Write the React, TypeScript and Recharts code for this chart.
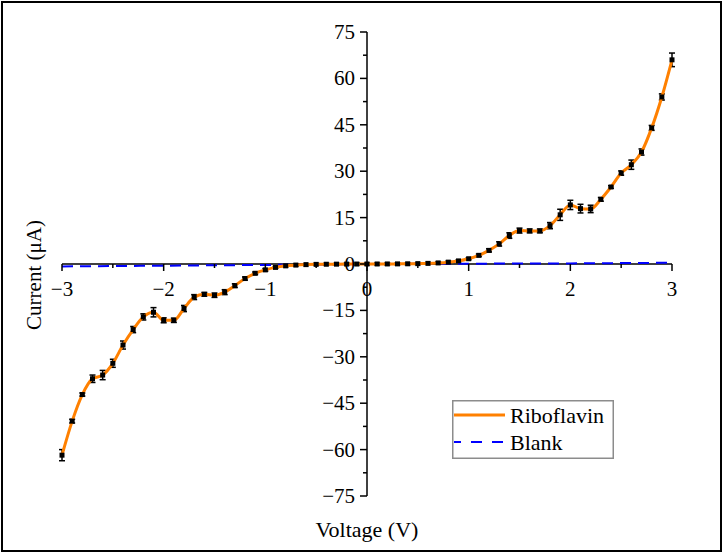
import React from "react";
import {
  LineChart,
  Line,
  XAxis,
  YAxis,
  ErrorBar,
  ReferenceLine,
  Legend,
  Label,
} from "recharts";

// voltage steps (V)
const voltage = [
  -3.0, -2.9, -2.8, -2.7, -2.6, -2.5, -2.4, -2.3, -2.2, -2.1,
  -2.0, -1.9, -1.8, -1.7, -1.6, -1.5, -1.4, -1.3, -1.2, -1.1,
  -1.0, -0.9, -0.8, -0.7, -0.6, -0.5, -0.4, -0.3, -0.2, -0.1,
  0.0, 0.1, 0.2, 0.3, 0.4, 0.5, 0.6, 0.7, 0.8, 0.9,
  1.0, 1.1, 1.2, 1.3, 1.4, 1.5, 1.6, 1.7, 1.8, 1.9,
  2.0, 2.1, 2.2, 2.3, 2.4, 2.5, 2.6, 2.7, 2.8, 2.9,
  3.0,
];

// riboflavin current (uA)
const riboflavinCurrent = [
  -61.8, -50.8, -42.2, -37.1, -35.9, -32.1, -26.2, -21.2, -17.1, -15.6,
  -18.2, -18.2, -14.4, -10.7, -9.8, -10.1, -9.1, -7.0, -4.7, -3.0,
  -1.9, -1.1, -0.6, -0.35, -0.2, -0.12, -0.08, -0.05, -0.03, -0.01,
  0, 0.01, 0.02, 0.04, 0.07, 0.12, 0.2, 0.35, 0.6, 1.0,
  1.7, 2.8, 4.4, 6.5, 9.2, 10.8, 10.7, 10.7, 12.4, 15.9,
  19.1, 17.9, 17.8, 20.9, 24.9, 29.4, 32.1, 36.2, 44.0, 54.0,
  66.0,
];

// error (+/-)
const riboflavinError = [
  1.8, 0.6, 0.5, 1.2, 1.5, 1.3, 1.3, 1.0, 1.0, 1.5,
  0.8, 0.7, 1.0, 0.8, 0.6, 0.7, 0.8, 0.6, 0.5, 0.4,
  0.4, 0.3, 0.3, 0.3, 0.3, 0.3, 0.3, 0.3, 0.3, 0.3,
  0.3, 0.3, 0.3, 0.3, 0.3, 0.3, 0.3, 0.3, 0.3, 0.3,
  0.3, 0.4, 0.5, 0.7, 0.9, 0.8, 0.6, 0.6, 1.0, 1.8,
  1.5, 1.4, 1.2, 0.6, 0.4, 0.7, 1.5, 1.0, 0.8, 1.0,
  2.2,
];

const blankVoltage = [-3, -2.5, -2, -1.5, -1, -0.5, 0, 0.5, 1, 1.5, 2, 2.5, 3];
const blankCurrent = [-0.8, -0.65, -0.55, -0.42, -0.3, -0.15, 0, 0.05, 0.1, 0.15, 0.2, 0.3, 0.4];

const xTicks = [-3, -2.5, -2, -1.5, -1, -0.5, 0, 0.5, 1, 1.5, 2, 2.5, 3];
const yTicks = [-75, -67.5, -60, -52.5, -45, -37.5, -30, -22.5, -15, -7.5, 0, 7.5, 15, 22.5, 30, 37.5, 45, 52.5, 60, 67.5, 75];

const riboflavinData = voltage.map((v, i) => ({
  v,
  current: riboflavinCurrent[i],
  err: riboflavinError[i],
}));
const blankData = blankVoltage.map((v, i) => ({ v, current: blankCurrent[i] }));

const W = 724;
const H = 555;
const X_AXIS_H = 30;
const Y_AXIS_W = 30;
const margin = { top: 32, right: 52, bottom: 59 - X_AXIS_H, left: 62 - Y_AXIS_W };
const plotW = W - 62 - margin.right;
const plotH = H - margin.top - 59;
const font = "'Liberation Serif', 'Times New Roman', serif";
const orange = "#ff8000";
const blue = "#0000ff";

const fmt = (n: number) => (n < 0 ? "\u2212" + Math.abs(n) : String(n));

// x axis crosses at y = 0 (middle of the plot)
function XTick({ x, y, payload }: any) {
  const y0 = y - plotH / 2;
  const major = Number.isInteger(payload.value);
  return (
    <g>
      <line x1={x} x2={x} y1={y0} y2={y0 + (major ? 7 : 4)} stroke="#000" strokeWidth={1.5} />
      {major && (
        <text x={x} y={y0 + 32} textAnchor="middle" fontSize={21} fontFamily={font} fill="#000">
          {fmt(payload.value)}
        </text>
      )}
    </g>
  );
}

// y axis crosses at x = 0 (middle of the plot)
function YTick({ x, y, payload }: any) {
  const x0 = x + plotW / 2;
  const major = Math.abs(payload.value % 15) < 1e-6;
  return (
    <g>
      <line x1={x0 - (major ? 7 : 4)} x2={x0} y1={y} y2={y} stroke="#000" strokeWidth={1.5} />
      {major && (
        <text x={x0 - 12} y={y + 7} textAnchor="end" fontSize={21} fontFamily={font} fill="#000">
          {fmt(payload.value)}
        </text>
      )}
    </g>
  );
}

function SquareDot({ cx, cy }: any) {
  if (cx == null || cy == null) return null;
  return <rect x={cx - 2.5} y={cy - 2.5} width={5} height={5} fill="#000" />;
}

function YTitle({ viewBox }: any) {
  const cx = viewBox.x + viewBox.width - 21;
  const cy = viewBox.y + viewBox.height / 2 + 11;
  return (
    <text transform={`translate(${cx},${cy}) rotate(-90)`} textAnchor="middle" fontSize={21} fontFamily={font} fill="#000">
      Current (μA)
    </text>
  );
}

function XTitle({ viewBox }: any) {
  return (
    <text x={viewBox.x + viewBox.width / 2} y={viewBox.y + 41} textAnchor="middle" fontSize={22} fontFamily={font} fill="#000">
      Voltage (V)
    </text>
  );
}

const legendOrder = ["Riboflavin", "Blank"];

function LegendBox({ payload }: any) {
  const items = legendOrder
    .map((name) => (payload || []).find((p: any) => p.value === name))
    .filter(Boolean);
  return (
    <svg width={162} height={59} style={{ display: "block" }}>
      <rect x={0.75} y={0.75} width={160.5} height={57.5} fill="#fff" stroke="#8c8c8c" strokeWidth={1.5} />
      {items.map((it: any, i: number) => {
        const cy = 15 + i * 27;
        const dashed = it.value === "Blank";
        return (
          <g key={it.value}>
            <line
              x1={2}
              x2={53}
              y1={cy}
              y2={cy}
              stroke={it.color}
              strokeWidth={dashed ? 2 : 3}
              strokeDasharray={dashed ? "11 10" : undefined}
              strokeDashoffset={dashed ? 4 : undefined}
            />
            <text x={58} y={cy + 8} fontSize={22} fontFamily={font} fill="#000">
              {it.value}
            </text>
          </g>
        );
      })}
    </svg>
  );
}

export default function App() {
  return (
    <div style={{ position: "absolute", left: 0, top: 0, width: W, height: H, background: "#fff" }}>
      <div
        style={{
          position: "absolute",
          left: 1,
          top: 1,
          width: 721,
          height: 551,
          boxSizing: "border-box",
          border: "2px solid #000",
        }}
      />
      <LineChart width={W} height={H} margin={margin}>
        <XAxis
          type="number"
          dataKey="v"
          domain={[-3, 3]}
          ticks={xTicks}
          interval={0}
          height={X_AXIS_H}
          axisLine={false}
          tickLine={false}
          tickSize={0}
          tickMargin={0}
          tick={<XTick />}
          label={<Label content={<XTitle />} />}
        />
        <YAxis
          type="number"
          domain={[-75, 75]}
          ticks={yTicks}
          interval={0}
          width={Y_AXIS_W}
          axisLine={false}
          tickLine={false}
          tickSize={0}
          tickMargin={0}
          tick={<YTick />}
          label={<Label content={<YTitle />} />}
        />
        <ReferenceLine y={0} stroke="#000" strokeWidth={1.5} />
        <ReferenceLine x={0} stroke="#000" strokeWidth={1.5} />
        <Line
          data={blankData}
          dataKey="current"
          name="Blank"
          type="monotone"
          stroke={blue}
          strokeWidth={2}
          strokeDasharray="11 7"
          dot={false}
          activeDot={false}
          isAnimationActive={false}
        />
        <Line
          data={riboflavinData}
          dataKey="current"
          name="Riboflavin"
          type="monotone"
          stroke={orange}
          strokeWidth={3}
          dot={<SquareDot />}
          activeDot={false}
          isAnimationActive={false}
        >
          <ErrorBar dataKey="err" direction="y" width={3} stroke="#000" strokeWidth={1.5} />
        </Line>
        <Legend
          layout="vertical"
          align="center"
          verticalAlign="middle"
          content={<LegendBox />}
          wrapperStyle={{ left: 452, top: 400, width: 162, height: 59 }}
        />
      </LineChart>
    </div>
  );
}
